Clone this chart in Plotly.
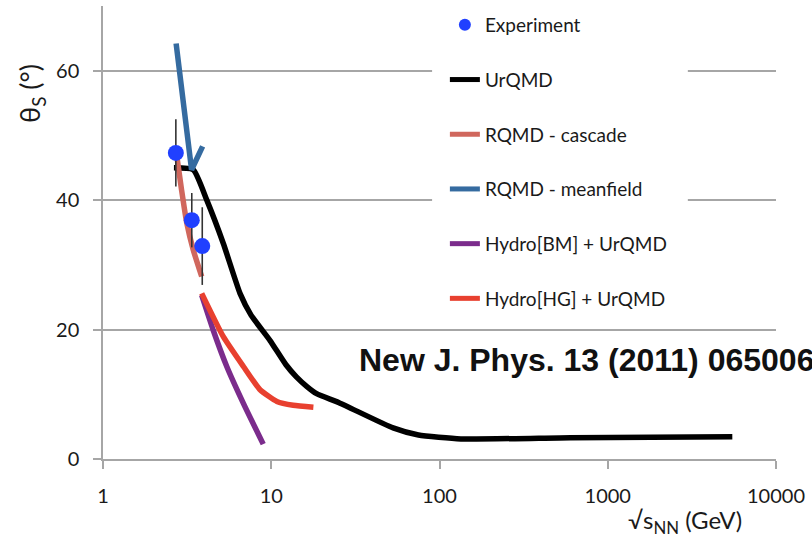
import plotly.graph_objects as go

# ---- data ----
exp_x = [2.71, 3.37, 3.89]
exp_y = [47.3, 36.9, 32.9]
exp_err = [5.2, 4.2, 6.0]

urqmd_x = [2.64, 3.44, 4.14, 5.19, 6.52, 7.6, 9.84, 12.2, 14.1, 16.3, 18.6, 25.3, 53, 75, 134, 600, 5500]
urqmd_y = [45.0, 44.7, 40.0, 33.3, 25.6, 22.2, 18.3, 14.6, 12.7, 11.2, 10.1, 8.7, 4.8, 3.7, 3.1, 3.3, 3.45]

casc_x = [2.74, 2.93, 3.14, 3.44, 3.86]
casc_y = [47.0, 41.6, 36.6, 32.3, 28.2]

mf_x = [2.72, 3.36, 3.91]
mf_y = [64.2, 44.7, 48.3]

bm_x = [3.86, 4.52, 5.44, 6.83, 8.96]
bm_y = [25.3, 19.9, 14.3, 8.6, 2.3]

hg_x = [3.86, 5.19, 6.83, 8.58, 10.8, 13.5, 17.8]
hg_y = [25.6, 18.9, 14.3, 10.7, 8.9, 8.3, 8.0]

x_ticks = [1, 10, 100, 1000, 10000]
x_ticklabels = ["1", "10", "100", "1000", "10000"]
y_ticks = [0, 20, 40, 60]

FONT = "Lato"
TXT = "#1a1a1a"
fig = go.Figure()

def line(x, y, name, color, rank, shape="spline"):
    fig.add_trace(go.Scatter(
        x=x, y=y, mode="lines", name=name, legendgroup=name, legendrank=rank,
        line=dict(color=color, width=5.5, shape=shape, smoothing=0.5),
    ))

line(urqmd_x, urqmd_y, "UrQMD", "#000000", 2)
line(casc_x, casc_y, "RQMD - cascade", "#d0675d", 3)
line(bm_x, bm_y, "Hydro[BM] + UrQMD", "#7b2c8c", 5)
line(hg_x, hg_y, "Hydro[HG] + UrQMD", "#e8402f", 6)
line(mf_x, mf_y, "RQMD - meanfield", "#356ba0", 4, shape="linear")

fig.add_trace(go.Scatter(
    x=exp_x, y=exp_y, mode="markers", name="Experiment", legendgroup="Experiment", legendrank=1,
    marker=dict(color="#2040ff", size=16),
    error_y=dict(type="data", array=exp_err, color="#333333", thickness=1.6, width=0),
))

# white panel behind the legend (hides gridlines there)
fig.add_shape(type="rect", xref="paper", yref="paper", x0=0.489, x1=0.869, y0=0.318, y1=1.0,
              fillcolor="white", line=dict(width=0), layer="above")

fig.update_layout(
    width=812, height=540,
    margin=dict(l=103, r=36, t=6, b=81),
    paper_bgcolor="white", plot_bgcolor="white",
    font=dict(family=FONT, color=TXT),
    legend=dict(
        x=0.508, y=1.0, xanchor="left", yanchor="top",
        bgcolor="rgba(255,255,255,0)", font=dict(family=FONT, size=19, color=TXT),
        tracegroupgap=27, itemwidth=30, itemsizing="constant",
    ),
    showlegend=True,
)

fig.update_xaxes(
    type="log", range=[0, 4], tickvals=x_ticks, ticktext=x_ticklabels,
    showgrid=False, showline=True, linecolor="#a6a6a6", linewidth=1.5,
    ticks="outside", ticklen=8, tickcolor="#a6a6a6", tickwidth=1.5,
    tickfont=dict(family=FONT, size=20, color=TXT), ticklabelstandoff=10,
    zeroline=False,
)
fig.update_yaxes(
    range=[0, 70], tickvals=y_ticks,
    showgrid=True, gridcolor="#a6a6a6", gridwidth=1.5,
    showline=True, linecolor="#a6a6a6", linewidth=1.5,
    ticks="outside", ticklen=8, tickcolor="#a6a6a6", tickwidth=1.5,
    tickfont=dict(family=FONT, size=20, color=TXT), ticklabelstandoff=10,
    zeroline=False,
)

fig.add_annotation(text="θ<sub>S</sub> (°)", xref="paper", yref="paper", x=-0.1055, y=0.808,
                   xanchor="center", yanchor="middle",
                   textangle=-90, showarrow=False, font=dict(family=FONT, size=27, color=TXT))
fig.add_annotation(text="√s<sub>NN</sub> (GeV)", xref="paper", yref="paper", x=0.865, y=-0.139,
                   xanchor="center", yanchor="middle",
                   showarrow=False, font=dict(family=FONT, size=24, color=TXT))
fig.add_annotation(text="<b>New J. Phys. 13 (2011) 065006</b>", xref="paper", yref="paper",
                   x=0.377, y=0.2185, xanchor="left", yanchor="middle", showarrow=False,
                   font=dict(family="Liberation Sans", size=32, color="#111111"))

fig.write_html("out.html")
